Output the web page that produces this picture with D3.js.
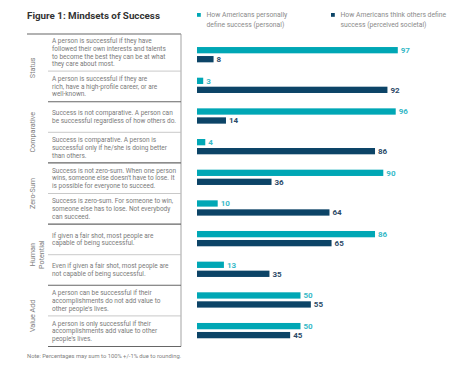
<!DOCTYPE html>
<meta charset="utf-8">
<script src="https://d3js.org/d3.v7.min.js"></script>
<style>
  body { margin: 0; background: #fff; }
  svg text { font-family: Roboto, "Liberation Sans", sans-serif; }
</style>
<body></body>
<script>

// data
var groups = [["Status"], ["Comparative"], ["Zero-Sum"], ["Human", "Potential"], ["Value Add"]];
var rowGroup = [0, 0, 1, 1, 2, 2, 3, 3, 4, 4];
var statements = [
  ["A person is successful if they have", "followed their own interests and talents", "to become the best they can be at what", "they care about most."],
  ["A person is successful if they are", "rich, have a high-profile career, or are", "well-known."],
  ["Success is not comparative. A person can", "be successful regardless of how others do."],
  ["Success is comparative. A person is", "successful only if he/she is doing better", "than others."],
  ["Success is not zero-sum. When one person", "wins, someone else doesn't have to lose. It", "is possible for everyone to succeed."],
  ["Success is zero-sum. For someone to win,", "someone else has to lose. Not everybody", "can succeed."],
  ["If given a fair shot, most people are", "capable of being successful."],
  ["Even if given a fair shot, most people are", "not capable of being successful."],
  ["A person can be successful if their", "accomplishments do not add value to", "other people's lives."],
  ["A person is only successful if their", "accomplishments add value to other", "people's lives."]
];
var personal = [97, 3, 96, 4, 90, 10, 86, 13, 50, 50];
var societal = [8, 92, 14, 86, 36, 64, 65, 35, 55, 45];
var legendLabels = [
  ["How Americans personally", "define success (personal)"],
  ["How Americans think others define", "success (perceived societal)"]
];

var colPersonal = "#00a7b5", colSocietal = "#0c4467";
var labPersonal = "#37b9c7", labSocietal = "#2c4a68";

var width = 475, height = 370;

var svg = d3.select("body").append("svg")
    .attr("width", width)
    .attr("height", height);

// title
svg.append("text")
    .attr("x", 27).attr("y", 19)
    .style("font-size", "9.8px").style("font-weight", "bold").style("fill", "#333")
    .text("Figure 1: Mindsets of Success");

// legend
var legend = svg.selectAll(".legend")
    .data(legendLabels)
  .enter().append("g")
    .attr("class", "legend")
    .attr("transform", function(d, i) { return "translate(" + [197, 331][i] + ",0)"; });

legend.append("rect")
    .attr("x", 0).attr("y", 13)
    .attr("width", 3.8).attr("height", 3.8)
    .style("fill", function(d, i) { return i == 0 ? colPersonal : colSocietal; });

legend.selectAll("text")
    .data(function(d) { return d; })
  .enter().append("text")
    .attr("x", 9.5)
    .attr("y", function(d, j) { return 17 + j * 9.5; })
    .style("font-size", "6.8px").style("fill", "#8a8a8a")
    .text(function(d) { return d; });

// table on the left
var tableTop = 34, lineH = 7.7;
var rows = [], acc = tableTop;
statements.forEach(function(lines, i) {
  var h = Math.max(30.6, lines.length * lineH + 6.3);
  rows.push({ i: i, y0: acc, y1: acc + h, lines: lines });
  acc += h;
});
var tableBottom = acc;

var table = svg.append("g").attr("class", "table");

table.append("line")
    .attr("x1", 27).attr("x2", 181).attr("y1", tableTop).attr("y2", tableTop)
    .style("stroke", "#666").style("stroke-width", 1.1);

table.append("line")
    .attr("x1", 181).attr("x2", 181).attr("y1", tableTop).attr("y2", tableBottom)
    .style("stroke", "#999").style("stroke-width", 0.9);

function groupEnd(i) { return i == rows.length - 1 || rowGroup[i] != rowGroup[i + 1]; }

table.selectAll(".sep")
    .data(rows)
  .enter().append("line")
    .attr("class", "sep")
    .attr("x1", 48).attr("x2", 181)
    .attr("y1", function(d) { return d.y1; })
    .attr("y2", function(d) { return d.y1; })
    .style("stroke", function(d) { return groupEnd(d.i) ? "#666" : "#bbb"; })
    .style("stroke-width", function(d) { return groupEnd(d.i) ? 1.1 : 0.8; });

var rowText = table.selectAll(".stmt")
    .data(rows)
  .enter().append("text")
    .attr("class", "stmt")
    .style("font-size", "6.5px").style("fill", "#7a7a7a");

rowText.selectAll("tspan")
    .data(function(d) {
      var c = (d.y0 + d.y1) / 2;
      return d.lines.map(function(l, j) { return { t: l, y: c + (j - (d.lines.length - 1) / 2) * lineH + 2.2 }; });
    })
  .enter().append("tspan")
    .attr("x", 52)
    .attr("y", function(d) { return d.y; })
    .text(function(d) { return d.t; });

// group labels, rotated
groups.forEach(function(g, gi) {
  var rs = rows.filter(function(r) { return rowGroup[r.i] == gi; });
  var cy = (rs[0].y0 + rs[rs.length - 1].y1) / 2;
  var t = table.append("text")
      .attr("transform", "translate(35," + cy + ") rotate(-90)")
      .attr("text-anchor", "middle")
      .style("font-size", "7.2px").style("fill", "#808080");
  t.selectAll("tspan")
      .data(g)
    .enter().append("tspan")
      .attr("x", 0)
      .attr("y", function(d, j) { return j * 8.6; })
      .text(function(d) { return d; });
});

// bars
var x = d3.scaleLinear().domain([0, 100]).range([197, 404]);
var y = d3.scaleBand().domain(d3.range(statements.length)).range([39.7, 346.3]);
var barH = 6.3;

var bars = svg.selectAll(".row")
    .data(statements.map(function(s, i) { return i; }))
  .enter().append("g")
    .attr("class", "row")
    .attr("transform", function(i) { return "translate(0," + (y(i) + y.bandwidth() / 2) + ")"; });

bars.append("rect")
    .attr("x", x(0))
    .attr("y", -8)
    .attr("width", function(i) { return x(personal[i]) - x(0); })
    .attr("height", barH)
    .style("fill", colPersonal);

bars.append("rect")
    .attr("x", x(0))
    .attr("y", 1)
    .attr("width", function(i) { return x(societal[i]) - x(0); })
    .attr("height", barH)
    .style("fill", colSocietal);

bars.append("text")
    .attr("x", function(i) { return x(personal[i]) + 3; })
    .attr("y", -8 + barH / 2 + 2.9)
    .style("font-size", "8px").style("font-weight", "bold").style("fill", labPersonal)
    .text(function(i) { return personal[i]; });

bars.append("text")
    .attr("x", function(i) { return x(societal[i]) + 3; })
    .attr("y", 1 + barH / 2 + 2.9)
    .style("font-size", "8px").style("font-weight", "bold").style("fill", labSocietal)
    .text(function(i) { return societal[i]; });

// note
svg.append("text")
    .attr("x", 27).attr("y", 358)
    .style("font-size", "5.8px").style("fill", "#808080")
    .text("Note: Percentages may sum to 100% +/-1% due to rounding.");

</script>
